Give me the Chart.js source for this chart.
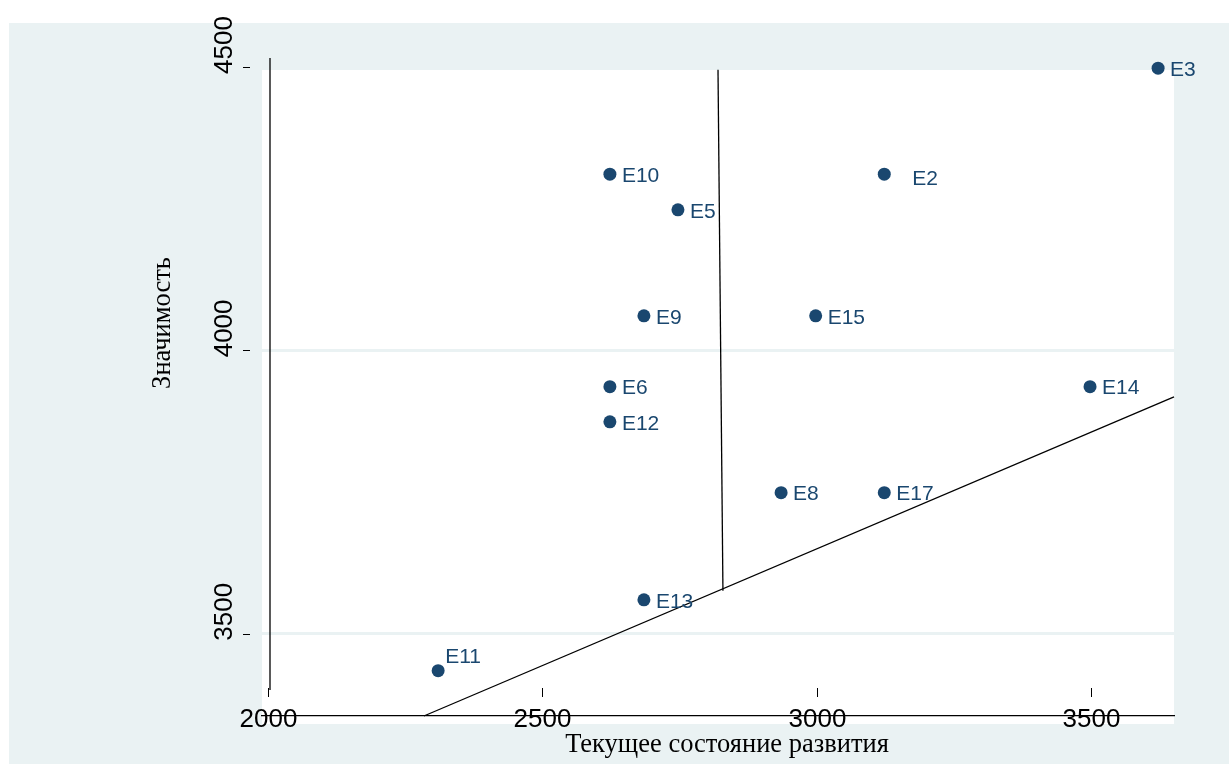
<!DOCTYPE html>
<html lang="ru">
<head>
<meta charset="utf-8">
<title>Значимость / Текущее состояние развития</title>
<script src="https://cdn.jsdelivr.net/npm/chart.js@4.4.1/dist/chart.umd.min.js"></script>
<style>
    html, body { margin: 0; padding: 0; background: #ffffff; }
    #contenedor { width: 1229px; height: 764px; position: relative; }
</style>
</head>
<body>
<div id="contenedor">
    <canvas id="grafico-dispersion"></canvas>
</div>
<script>
// Datos
const etiquetas = ['E3', 'E2', 'E10', 'E5', 'E9', 'E15', 'E6', 'E12', 'E14', 'E8', 'E17', 'E13', 'E11'];
const valoresX = [3622, 3123, 2623, 2747, 2685, 2998, 2623, 2623, 3498, 2935, 3123, 2685, 2310];
const valoresY = [4498, 4311, 4311, 4248, 4061, 4061, 3936, 3874, 3936, 3749, 3749, 3560, 3435];

// Líneas de división
const lineaVerticalX = [2820, 2829];
const lineaVerticalY = [4495, 3576];
const lineaDiagonalX = [2284, 3651];
const lineaDiagonalY = [3355, 3918];

// Marcas de los ejes
const ticksX = [2000, 2500, 3000, 3500];
const ticksY = [3500, 4000, 4500];

const tituloX = 'Текущее состояние развития';
const tituloY = 'Значимость';

// Colores estilo Stata s2color
const colorFondo = '#EAF2F3';
const colorMarca = '#1A476F';

const fuenteSans = '"Liberation Sans", Arial, sans-serif';
const fuenteSerif = '"Liberation Serif", "Times New Roman", serif';

// Posición de algunas etiquetas (el resto a la derecha del punto)
const desplazamientoEtiquetas = { E2: [28, 5], E11: [7, -13] };

function puntos(xs, ys) {
    return xs.map((x, i) => ({ x: x, y: ys[i] }));
}

// Fondo gris azulado y región blanca del gráfico
const pluginFondo = {
    id: 'fondo',
    beforeDraw(chart) {
        const ctx = chart.ctx;
        const ca = chart.chartArea;
        ctx.save();
        ctx.fillStyle = '#ffffff';
        ctx.fillRect(0, 0, chart.width, chart.height);
        ctx.fillStyle = colorFondo;
        ctx.fillRect(9, 23, chart.width - 9, chart.height - 23);
        ctx.fillStyle = '#ffffff';
        ctx.fillRect(ca.left, ca.top + 3, ca.right - ca.left, ca.bottom - ca.top + 5);
        ctx.restore();
    }
};

// Eje Y, marcas cortas, etiquetas del eje X y títulos de los ejes
const pluginEjes = {
    id: 'ejes',
    afterDraw(chart) {
        const ctx = chart.ctx;
        const ca = chart.chartArea;
        const escalaX = chart.scales.x;
        const escalaY = chart.scales.y;
        ctx.save();
        ctx.strokeStyle = '#000000';
        ctx.lineWidth = 1.3;
        ctx.beginPath();
        ctx.moveTo(ca.left + 8, ca.top - 9);
        ctx.lineTo(ca.left + 8, ca.bottom - 26);
        ctx.stroke();

        ctx.lineWidth = 1;
        ticksY.forEach(v => {
            const py = Math.round(escalaY.getPixelForValue(v)) + 0.5;
            ctx.beginPath();
            ctx.moveTo(ca.left - 19, py);
            ctx.lineTo(ca.left - 12, py);
            ctx.stroke();
        });

        ctx.fillStyle = '#000000';
        ctx.font = '26px ' + fuenteSans;
        ctx.textAlign = 'center';
        ctx.textBaseline = 'alphabetic';
        ticksX.forEach(v => {
            const px = Math.round(escalaX.getPixelForValue(v)) + 0.5;
            ctx.beginPath();
            ctx.moveTo(px, ca.bottom - 28);
            ctx.lineTo(px, ca.bottom - 19);
            ctx.stroke();
            ctx.fillText(String(v), px, ca.bottom + 11);
        });

        // título del eje X (un poco a la derecha del centro, como en el original)
        ctx.font = '26.5px ' + fuenteSerif;
        ctx.textBaseline = 'middle';
        ctx.fillText(tituloX, (ca.left + ca.right) / 2 + 9, 745);

        ctx.translate(163, 323);
        ctx.rotate(-Math.PI / 2);
        ctx.fillText(tituloY, 0, 0);
        ctx.restore();
    }
};

// Etiquetas de los puntos
const pluginEtiquetas = {
    id: 'etiquetas',
    afterDatasetsDraw(chart) {
        const ctx = chart.ctx;
        const meta = chart.getDatasetMeta(0);
        ctx.save();
        ctx.fillStyle = colorMarca;
        ctx.font = '21px ' + fuenteSans;
        ctx.textAlign = 'left';
        ctx.textBaseline = 'middle';
        meta.data.forEach((el, i) => {
            const nombre = etiquetas[i];
            const d = desplazamientoEtiquetas[nombre] || [12, 2];
            ctx.fillText(nombre, el.x + d[0], el.y + d[1]);
        });
        ctx.restore();
    }
};

new Chart(document.getElementById('grafico-dispersion'), {
    type: 'scatter',
    data: {
        datasets: [
            {
                label: 'Элементы',
                data: puntos(valoresX, valoresY),
                backgroundColor: colorMarca,
                borderWidth: 0,
                pointRadius: 6.5,
                pointHoverRadius: 6.5,
                clip: false
            },
            {
                label: 'linea1',
                data: puntos(lineaVerticalX, lineaVerticalY),
                showLine: true,
                borderColor: '#000000',
                borderWidth: 1.3,
                pointRadius: 0,
                clip: false
            },
            {
                label: 'linea2',
                data: puntos(lineaDiagonalX, lineaDiagonalY),
                showLine: true,
                borderColor: '#000000',
                borderWidth: 1.3,
                pointRadius: 0,
                clip: false
            }
        ]
    },
    options: {
        responsive: true,
        maintainAspectRatio: false,
        animation: false,
        events: [],
        layout: { padding: { top: 67, right: 55, left: 0, bottom: 0 } },
        plugins: {
            legend: { display: false },
            tooltip: { enabled: false },
            title: { display: false }
        },
        scales: {
            x: {
                type: 'linear',
                min: 1989,
                max: 3651,
                afterBuildTicks: s => { s.ticks = ticksX.map(v => ({ value: v })); },
                afterFit: s => { s.height = 48; },
                grid: { display: false, drawTicks: false },
                border: { display: true, color: '#000000', width: 1.3 },
                // las etiquetas se dibujan en pluginEjes (se superponen a la línea del eje)
                ticks: { display: false },
                title: { display: false }
            },
            y: {
                type: 'linear',
                min: 3355,
                max: 4500,
                afterBuildTicks: s => { s.ticks = ticksY.map(v => ({ value: v })); },
                afterFit: s => { s.width = 262; },
                grid: { color: colorFondo, lineWidth: 3, drawTicks: false },
                border: { display: false },
                ticks: {
                    color: '#000000',
                    font: { family: fuenteSans, size: 26 },
                    minRotation: 90,
                    maxRotation: 90,
                    crossAlign: 'center',
                    padding: 8,
                    labelOffset: -22,
                    autoSkip: false,
                    callback: v => String(v)
                }
            }
        }
    },
    plugins: [pluginFondo, pluginEjes, pluginEtiquetas]
});
</script>
</body>
</html>
